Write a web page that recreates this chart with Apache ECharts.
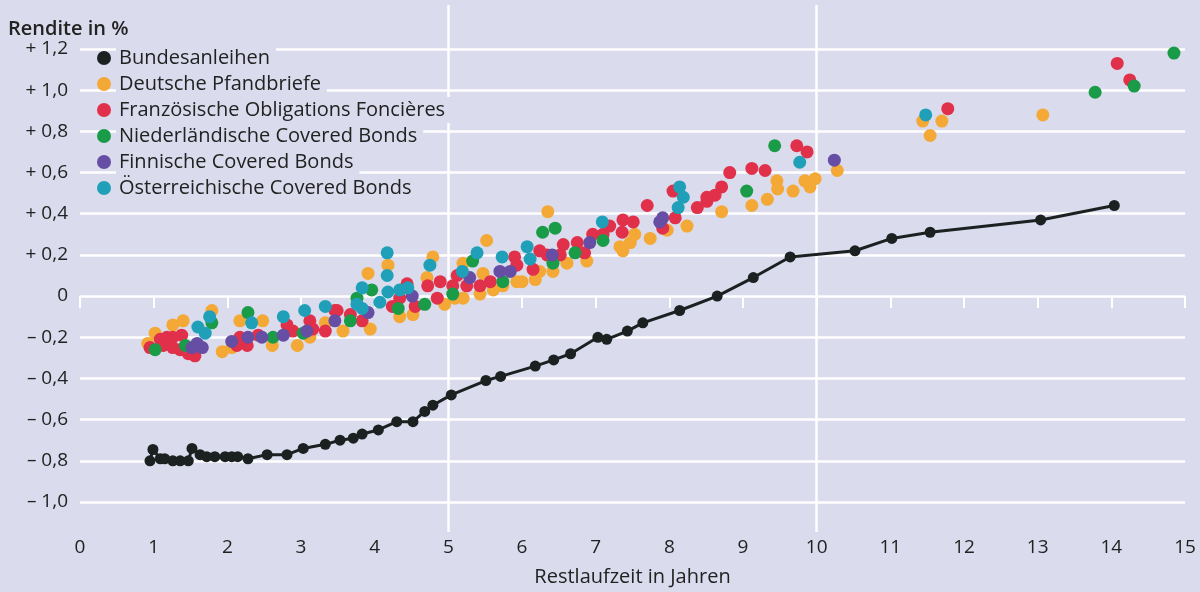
<!DOCTYPE html>
<html>
<head>
<meta charset="utf-8">
<script src="https://cdn.jsdelivr.net/npm/echarts@6/dist/echarts.min.js"></script>
<style>
  html, body { margin: 0; padding: 0; background: #dadbec; }
  #chart { width: 1200px; height: 592px; }
</style>
</head>
<body>
<div id="chart"></div>
<script>
// Rendite (%) nach Restlaufzeit (Jahre) -- [x, y] pairs
var seriesNames = ['Bundesanleihen', 'Deutsche Pfandbriefe', 'Französische Obligations Foncières',
  'Niederländische Covered Bonds', 'Finnische Covered Bonds', 'Österreichische Covered Bonds'];
var seriesColors = ['#1b2121', '#f4a836', '#e0304a', '#1a9b48', '#654ea3', '#20a0b8'];

var xTicks = [0, 15, 1];
var yTicks = [-1.0, 1.2, 0.2];

var bundesanleihen = [
  [0.95, -0.80], [0.99, -0.745], [1.09, -0.79], [1.15, -0.79], [1.26, -0.80], [1.36, -0.80],
  [1.47, -0.80], [1.52, -0.74], [1.63, -0.77], [1.72, -0.78], [1.83, -0.78], [1.97, -0.78],
  [2.06, -0.78], [2.14, -0.78], [2.28, -0.79], [2.54, -0.77], [2.81, -0.77], [3.03, -0.74],
  [3.33, -0.72], [3.53, -0.70], [3.71, -0.69], [3.83, -0.67], [4.05, -0.65], [4.30, -0.61],
  [4.52, -0.61], [4.68, -0.56], [4.79, -0.53], [5.04, -0.48], [5.51, -0.41], [5.71, -0.39],
  [6.18, -0.34], [6.43, -0.31], [6.66, -0.28], [7.03, -0.20], [7.15, -0.21], [7.43, -0.17],
  [7.64, -0.13], [8.14, -0.07], [8.65, 0.00], [9.14, 0.09], [9.64, 0.19], [10.52, 0.22],
  [11.02, 0.28], [11.54, 0.31], [13.04, 0.37], [14.04, 0.44]
];

var pfandbriefe = [
  [0.92, -0.23], [1.02, -0.18], [1.26, -0.14], [1.40, -0.12], [1.79, -0.07], [1.93, -0.27],
  [2.06, -0.25], [2.17, -0.12], [2.48, -0.12], [2.61, -0.24], [2.95, -0.24], [3.12, -0.20],
  [3.33, -0.13], [3.57, -0.17], [3.91, 0.11], [3.94, -0.16], [4.18, 0.15], [4.34, -0.10],
  [4.52, -0.09], [4.71, 0.09], [4.79, 0.19], [4.95, -0.04], [5.09, -0.01], [5.20, 0.16],
  [5.20, -0.01], [5.43, 0.01], [5.47, 0.11], [5.52, 0.27], [5.61, 0.03], [5.74, 0.05],
  [5.93, 0.07], [6.00, 0.07], [6.18, 0.08], [6.24, 0.12], [6.35, 0.41], [6.42, 0.12],
  [6.61, 0.16], [6.88, 0.17], [7.33, 0.24], [7.37, 0.22], [7.47, 0.26], [7.53, 0.30],
  [7.74, 0.28], [7.97, 0.32], [8.24, 0.34], [8.71, 0.41], [9.12, 0.44], [9.33, 0.47],
  [9.46, 0.56], [9.47, 0.52], [9.68, 0.51], [9.84, 0.56], [9.91, 0.53], [9.98, 0.57],
  [10.28, 0.61], [11.44, 0.85], [11.54, 0.78], [11.70, 0.85], [13.07, 0.88]
];

var obligationsFoncieres = [
  [0.95, -0.25], [1.09, -0.21], [1.13, -0.24], [1.18, -0.20], [1.26, -0.20], [1.26, -0.25],
  [1.36, -0.26], [1.38, -0.19], [1.47, -0.28], [1.56, -0.29], [2.13, -0.24], [2.17, -0.20],
  [2.27, -0.24], [2.42, -0.19], [2.81, -0.14], [2.89, -0.17], [3.12, -0.12], [3.16, -0.16],
  [3.33, -0.17], [3.46, -0.07], [3.49, -0.07], [3.67, -0.09], [3.83, -0.12], [4.24, -0.05],
  [4.34, -0.01], [4.44, 0.06], [4.55, -0.05], [4.72, 0.05], [4.85, -0.01], [4.89, 0.07],
  [5.06, 0.05], [5.12, 0.10], [5.25, 0.05], [5.43, 0.05], [5.57, 0.07], [5.90, 0.19],
  [5.93, 0.15], [6.15, 0.13], [6.24, 0.22], [6.34, 0.20], [6.52, 0.20], [6.56, 0.25],
  [6.75, 0.26], [6.85, 0.21], [6.96, 0.30], [7.10, 0.30], [7.19, 0.34], [7.36, 0.31],
  [7.37, 0.37], [7.51, 0.36], [7.70, 0.44], [7.91, 0.33], [8.05, 0.51], [8.08, 0.38],
  [8.38, 0.43], [8.51, 0.46], [8.51, 0.48], [8.62, 0.49], [8.71, 0.53], [8.82, 0.60],
  [9.12, 0.62], [9.30, 0.61], [9.73, 0.73], [9.87, 0.70], [11.78, 0.91], [14.08, 1.13],
  [14.25, 1.05]
];

var niederlande = [
  [1.02, -0.26], [1.43, -0.24], [1.79, -0.13], [2.28, -0.08], [2.62, -0.20], [3.03, -0.18],
  [3.67, -0.12], [3.76, -0.01], [3.96, 0.03], [4.32, -0.06], [4.68, -0.04], [5.06, 0.01],
  [5.33, 0.17], [5.74, 0.07], [6.28, 0.31], [6.42, 0.16], [6.45, 0.33], [6.72, 0.21],
  [7.10, 0.27], [9.05, 0.51], [9.43, 0.73], [13.78, 0.99], [14.31, 1.02], [14.85, 1.18]
];

var finnland = [
  [1.52, -0.25], [1.59, -0.23], [1.66, -0.25], [2.06, -0.22], [2.28, -0.20], [2.47, -0.20],
  [2.76, -0.19], [3.08, -0.17], [3.46, -0.12], [3.91, -0.08], [4.51, 0.00], [5.29, 0.09],
  [5.70, 0.12], [5.84, 0.12], [6.41, 0.20], [6.92, 0.26], [7.87, 0.36], [7.91, 0.38],
  [10.24, 0.66]
];

var oesterreich = [
  [1.60, -0.15], [1.70, -0.18], [1.76, -0.10], [2.33, -0.13], [2.76, -0.10], [3.05, -0.07],
  [3.33, -0.05], [3.76, -0.04], [3.83, 0.04], [3.83, -0.06], [4.07, -0.03], [4.17, 0.21],
  [4.17, 0.10], [4.18, 0.02], [4.34, 0.03], [4.45, 0.04], [4.75, 0.15], [5.19, 0.12],
  [5.39, 0.21], [5.73, 0.19], [6.07, 0.24], [6.11, 0.18], [7.09, 0.36], [8.12, 0.43],
  [8.14, 0.53], [8.19, 0.48], [9.77, 0.65], [11.48, 0.88]
];

var bg = '#dadbec';
var font = 'Open Sans';
var textColor = '#222';

function yLabel(v) {
  if (Math.abs(v) < 1e-9) return '0';
  var s = Math.abs(v).toFixed(1).replace('.', ',');
  return (v > 0 ? '+ ' : '– ') + s;
}

function scatter(i, data) {
  return {
    name: seriesNames[i],
    type: 'scatter',
    data: data,
    symbolSize: 13,
    itemStyle: { color: seriesColors[i], opacity: 1 },
    z: 3 + i
  };
}

var chart = echarts.init(document.getElementById('chart'));

chart.setOption({
  backgroundColor: bg,
  animation: false,
  textStyle: { fontFamily: font },
  title: {
    text: 'Rendite in %',
    left: 8, top: 19,
    padding: 0,
    textStyle: { fontFamily: font, fontSize: 20, fontWeight: 600, color: textColor }
  },
  legend: {
    orient: 'vertical',
    left: 97, top: 45,
    padding: 0,
    itemGap: 0,
    itemWidth: 14, itemHeight: 14,
    icon: 'circle',
    data: seriesNames,
    textStyle: {
      fontFamily: font, fontSize: 20, color: textColor,
      lineHeight: 22, backgroundColor: bg, padding: [2, 6, 2, 3]
    }
  },
  grid: [
    { left: 80, right: 15, top: 49, bottom: 87 },
    { left: 80, right: 15, top: 5, bottom: 60 }
  ],
  xAxis: [
    {
      type: 'value', gridIndex: 0,
      min: xTicks[0], max: xTicks[1], interval: xTicks[2],
      offset: 15,
      name: 'Restlaufzeit in Jahren',
      nameLocation: 'middle', nameGap: 50,
      nameTextStyle: { fontFamily: font, fontSize: 20, color: textColor },
      axisLine: { show: false },
      axisTick: { show: true, length: 12, lineStyle: { color: '#ffffff', width: 2 } },
      axisLabel: { margin: 21, fontFamily: font, fontSize: 19, color: textColor },
      splitLine: { show: false }
    },
    {
      type: 'value', gridIndex: 1,
      min: xTicks[0], max: xTicks[1], interval: 5,
      axisLine: { show: false }, axisTick: { show: false }, axisLabel: { show: false },
      splitLine: { show: true, showMinLine: false, showMaxLine: false,
        lineStyle: { color: '#ffffff', width: 2.5 } }
    }
  ],
  yAxis: [
    {
      type: 'value', gridIndex: 0,
      min: yTicks[0], max: yTicks[1], interval: yTicks[2],
      axisLine: { show: false }, axisTick: { show: false },
      axisLabel: { margin: 12, fontFamily: font, fontSize: 19, color: textColor, formatter: yLabel },
      splitLine: { show: true, lineStyle: { color: '#ffffff', width: 2.5 } }
    },
    {
      type: 'value', gridIndex: 1, min: 0, max: 1, show: false,
      splitLine: { show: false }
    }
  ],
  series: [
    {
      name: seriesNames[0],
      type: 'line',
      data: bundesanleihen,
      symbol: 'circle',
      symbolSize: 11,
      lineStyle: { color: seriesColors[0], width: 3 },
      itemStyle: { color: seriesColors[0] },
      z: 10
    },
    scatter(1, pfandbriefe),
    scatter(2, obligationsFoncieres),
    scatter(3, niederlande),
    scatter(4, finnland),
    scatter(5, oesterreich)
  ]
});
</script>
</body>
</html>
